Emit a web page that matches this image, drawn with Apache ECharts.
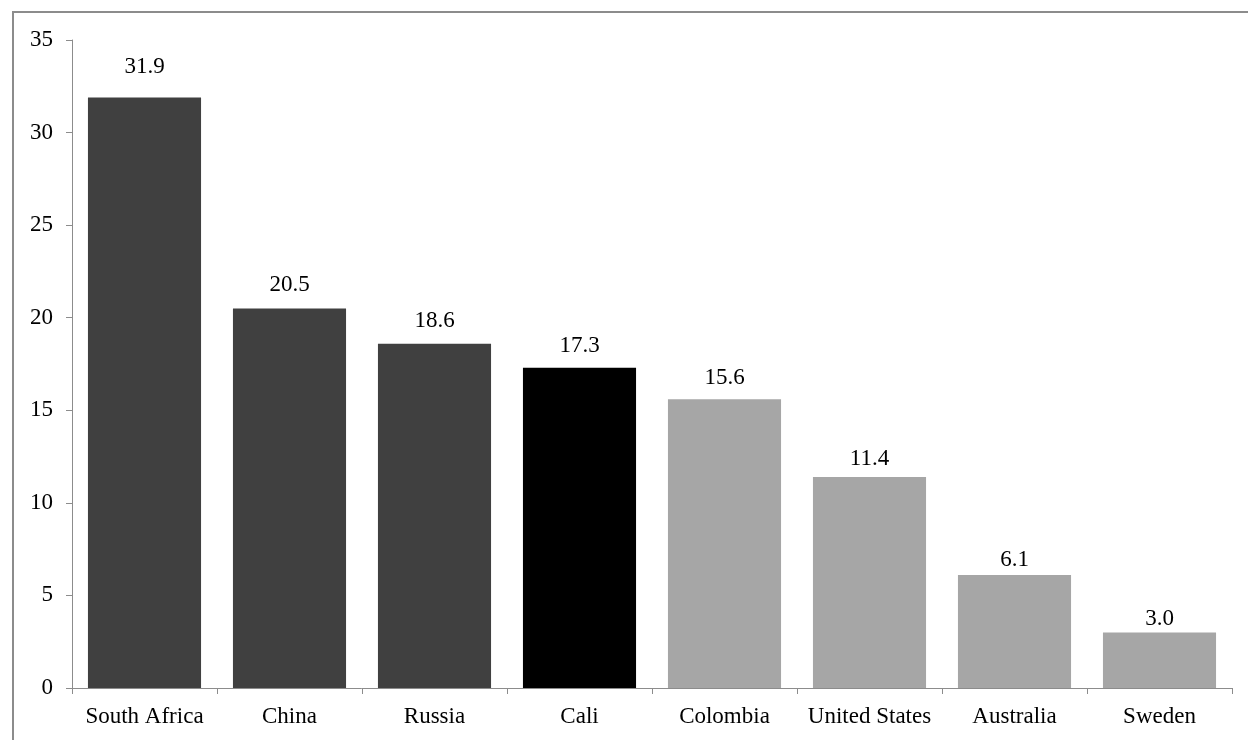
<!DOCTYPE html>
<html><head><meta charset="utf-8">
<script src="https://cdn.jsdelivr.net/npm/echarts@6/dist/echarts.min.js"></script>
<style>html,body{margin:0;padding:0;background:#fff}#frame{position:absolute;left:12px;top:11px;width:1300px;height:800px;border:2px solid #8c8c8c;box-sizing:border-box}#c{position:absolute;left:0;top:0;width:1248px;height:740px}</style>
</head><body>
<div id="frame"></div>
<div id="c"></div>
<script>
const categories = ['South Africa','China','Russia','Cali','Colombia','United States','Australia','Sweden'];
const values = [31.9, 20.5, 18.6, 17.3, 15.6, 11.4, 6.1, 3.0];
const barColors = ['#404040','#404040','#404040','#000000','#a6a6a6','#a6a6a6','#a6a6a6','#a6a6a6'];
const yTicks = [0,5,10,15,20,25,30,35];

const font = '"Liberation Serif","Times New Roman",serif';
const chart = echarts.init(document.getElementById('c'));
chart.setOption({
  animation: false,
  grid: {left: 72, right: 16, top: 40, bottom: 52, containLabel: false},
  xAxis: {
    type: 'category', data: categories,
    axisLine: {lineStyle: {color: '#8c8c8c', width: 1}},
    axisTick: {show: true, length: 6, alignWithLabel: false, lineStyle: {color: '#8c8c8c'}},
    axisLabel: {color: '#000', fontFamily: font, fontSize: 23, margin: 17, interval: 0}
  },
  yAxis: {
    type: 'value', min: yTicks[0], max: yTicks[yTicks.length-1], interval: 5,
    splitLine: {show: false},
    axisLine: {show: true, lineStyle: {color: '#8c8c8c', width: 1}},
    axisTick: {show: true, length: 6, lineStyle: {color: '#8c8c8c'}},
    axisLabel: {color: '#000', fontFamily: font, fontSize: 23, margin: 19}
  },
  series: [{
    type: 'bar',
    data: values.map((v,i)=>({
      value: v,
      itemStyle: {color: barColors[i]},
      label: {distance: Math.max(1, 2 + 0.59 * (v - 3))}
    })),
    barCategoryGap: '22%',
    label: {show: true, position: 'top', color: '#000', fontFamily: font, fontSize: 23,
      formatter: p => p.value.toFixed(1)}
  }]
});
</script>
</body></html>
